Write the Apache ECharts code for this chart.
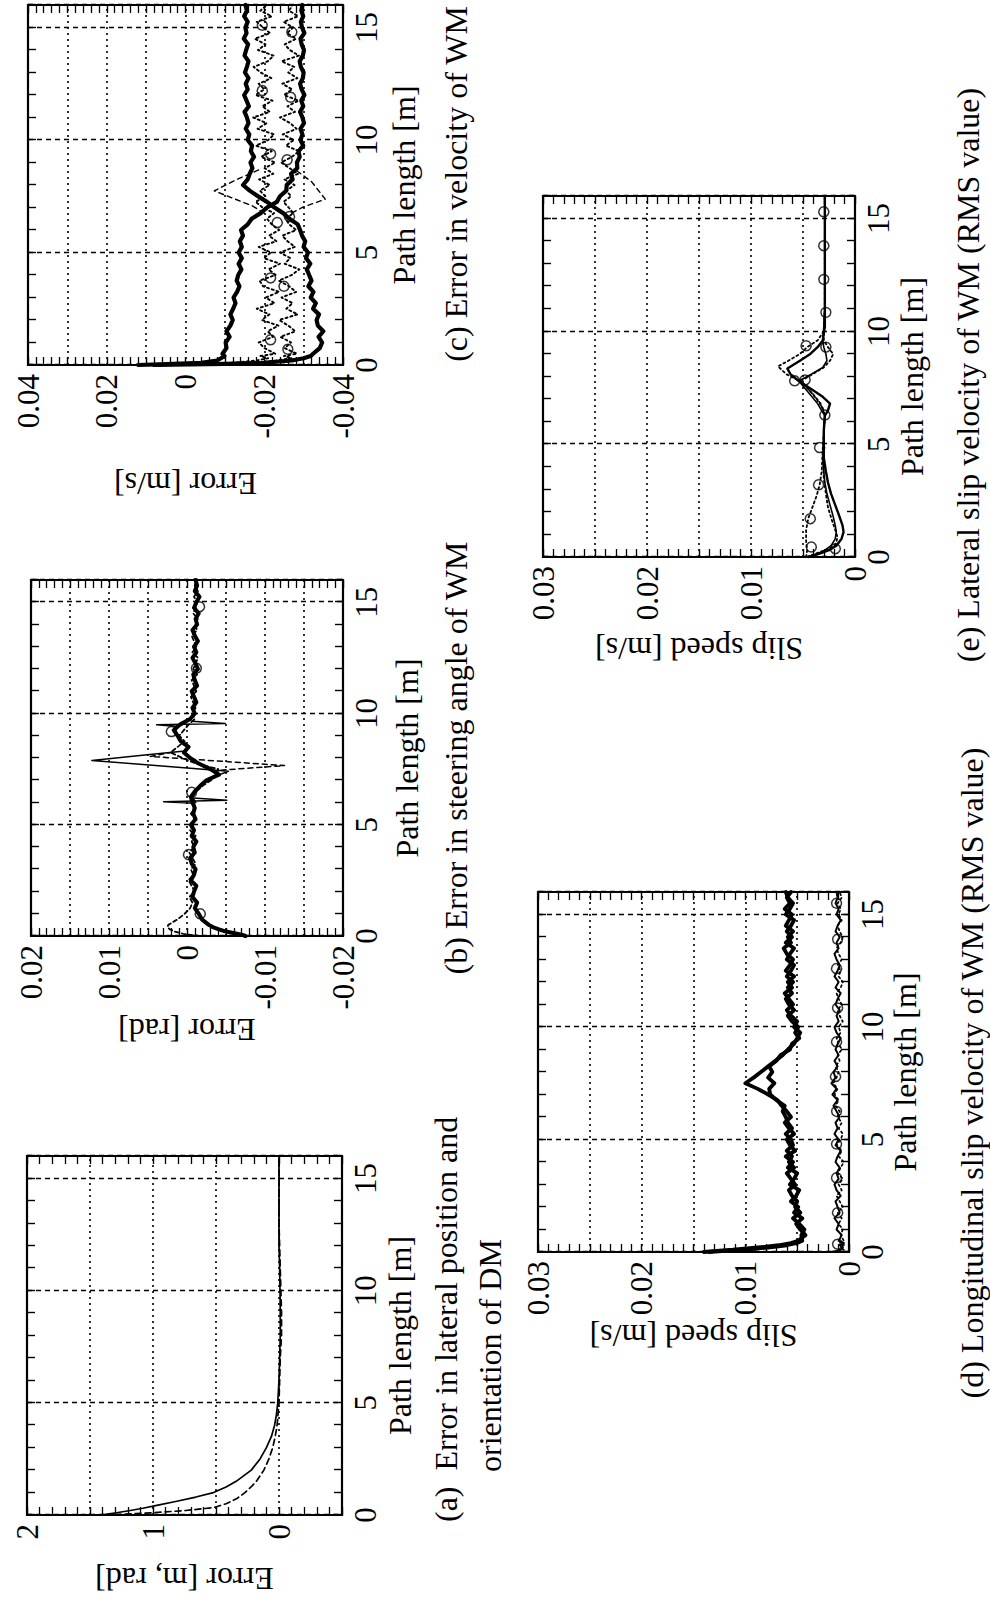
<!DOCTYPE html>
<html>
<head>
<meta charset="utf-8">
<title>Tracking errors and slip velocities along the path</title>
<script src="https://cdn.jsdelivr.net/npm/echarts@6.0.0/dist/echarts.min.js"></script>
<style>
  html, body { margin: 0; padding: 0; width: 990px; height: 1604px; overflow: hidden; background: #fff; }
  /* The figure is laid out landscape (1604 x 990) and turned a quarter turn counter-clockwise onto the portrait page. */
  #chart { position: absolute; left: 0; top: 0; width: 1604px; height: 990px;
           transform-origin: 0 0; transform: translate(0px, 1604px) rotate(-90deg); }
</style>
</head>
<body>
<div id="chart"></div>
<script>
// ---------------------------------------------------------------- data
// Shared sampling positions along the path [m] for the densely sampled (noisy) records.
const PATH_GRID = [0, 0.05, 0.1, 0.2, 0.3, 0.4,
  0.5, 0.75, 1, 1.25, 1.5, 1.75, 2, 2.25, 2.5, 2.75,
  3, 3.25, 3.5, 3.75, 4, 4.25, 4.5, 4.75, 5, 5.25,
  5.5, 5.75, 6, 6.25, 6.5, 6.75, 7, 7.25, 7.5, 7.75,
  8, 8.25, 8.5, 8.75, 9, 9.25, 9.5, 9.75, 10, 10.25,
  10.5, 10.75, 11, 11.25, 11.5, 11.75, 12, 12.25, 12.5, 12.75,
  13, 13.25, 13.5, 13.75, 14, 14.25, 14.5, 14.75, 15, 15.25,
  15.5, 15.75, 16];

const PATH_TICKS = [0, 5, 10, 15];

// (a) lateral position / orientation error of the DM [m, rad]
const A_POSITION = [[0, 1.42], [0.1, 1.29], [0.2, 1.18], [0.3, 1.08], [0.43, 0.97], [0.6, 0.82], [0.8, 0.66],
  [1.0, 0.52], [1.25, 0.42], [1.5, 0.34], [2.0, 0.22], [2.5, 0.15], [3.0, 0.10], [3.5, 0.06], [4.0, 0.035],
  [4.5, 0.02], [5, 0.01], [6, 0.0], [7, -0.005], [8, -0.01], [9, -0.01], [10, -0.008], [11, -0.005],
  [12, 0.0], [14, 0.0], [16, 0.0]];
const A_ORIENTATION = [[0, 1.38], [0.1, 1.0], [0.2, 0.74], [0.33, 0.52], [0.5, 0.42], [0.75, 0.33], [1.0, 0.27],
  [1.26, 0.22], [1.5, 0.18], [2.0, 0.12], [2.5, 0.08], [3.0, 0.05], [3.5, 0.03], [4.0, 0.015], [5, 0.0],
  [6, -0.005], [7, -0.01], [8, -0.02], [9, -0.02], [10, -0.015], [11, -0.01], [12, -0.005], [13, 0.0], [16, 0.0]];

// (b) steering angle error of the WM [rad]
const B_MAIN = [-0.0075, -0.0071, -0.0064, -0.0050, -0.0041, -0.0033,
  -0.0028, -0.0019, -0.0015, -0.0010, -0.0013, -0.0007, -0.0009, -0.0012, -0.0005, -0.0009,
  -0.0011, -0.0006, -0.0004, -0.0010, -0.0008, -0.0012, -0.0006, -0.0009, -0.0005, -0.0011,
  -0.0008, -0.0010, -0.0007, -0.0005, -0.0010, -0.0017, -0.0025, -0.0041, -0.0030, -0.0015,
  -0.0004, 0.0004, -0.0002, 0.0008, 0.0012, 0.0017, 0.0009, -0.0004, -0.0010, -0.0007,
  -0.0012, -0.0009, -0.0006, -0.0013, -0.0010, -0.0008, -0.0014, -0.0011, -0.0007, -0.0012,
  -0.0009, -0.0014, -0.0010, -0.0007, -0.0013, -0.0011, -0.0015, -0.0009, -0.0012, -0.0016,
  -0.0010, -0.0013, -0.0011];
const B_DASHED = [-0.0016, -0.0005, 0.0005, 0.0016, 0.0022, 0.0025,
  0.0024, 0.0012, 0.0003, -0.0004, -0.0007, -0.0003, -0.0010, -0.0006, -0.0002, -0.0008,
  -0.0005, -0.0011, -0.0007, -0.0003, -0.0009, -0.0006, -0.0011, -0.0004, -0.0008, -0.0010,
  -0.0005, -0.0009, -0.0011, -0.0007, -0.0012, -0.0020, -0.0031, -0.0038, -0.0040, -0.0012,
  0.0006, 0.0021, 0.0012, 0.0003, 0.0010, 0.0004, -0.0002, -0.0010, -0.0006, -0.0011,
  -0.0008, -0.0005, -0.0012, -0.0009, -0.0006, -0.0013, -0.0008, -0.0011, -0.0014, -0.0007,
  -0.0012, -0.0009, -0.0006, -0.0013, -0.0010, -0.0014, -0.0008, -0.0011, -0.0013, -0.0009,
  -0.0014, -0.0010, -0.0012];
const B_KICK_1 = [[5.97, -0.0009], [6.03, 0.0030], [6.10, -0.0051], [6.2, -0.0008]];
const B_KICK_2 = [[7.25, -0.0041], [7.4, -0.0053], [7.89, 0.0122], [8.15, 0.0051], [8.3, 0.0006]];
const B_KICK_3 = [[9.42, 0.0012], [9.49, 0.0039], [9.55, -0.0049], [9.65, -0.0006]];
const B_KICK_DASHED = [[7.2, -0.0035], [7.45, -0.0042], [7.66, -0.0125], [8.07, 0.0047], [8.25, 0.0021]];
const B_MARKS = [[1.0, -0.0017], [3.66, -0.0002], [6.46, -0.0006], [9.19, 0.0020], [12.03, -0.0012], [14.8, -0.0016]];

// (c) velocity error of the WM [m/s]
const C_UPPER = [0.0120, 0.0030, -0.0040, -0.0080, -0.0090, -0.0099,
  -0.0094, -0.0104, -0.0102, -0.0112, -0.0104, -0.0114, -0.0120, -0.0114, -0.0121, -0.0127,
  -0.0122, -0.0131, -0.0137, -0.0130, -0.0134, -0.0142, -0.0135, -0.0143, -0.0135, -0.0143,
  -0.0138, -0.0146, -0.0141, -0.0158, -0.0168, -0.0191, -0.0207, -0.0232, -0.0240, -0.0256,
  -0.0257, -0.0272, -0.0268, -0.0284, -0.0283, -0.0290, -0.0287, -0.0299, -0.0292, -0.0297,
  -0.0292, -0.0301, -0.0297, -0.0291, -0.0299, -0.0294, -0.0302, -0.0295, -0.0291, -0.0298,
  -0.0300, -0.0293, -0.0290, -0.0298, -0.0301, -0.0295, -0.0292, -0.0302, -0.0296, -0.0293,
  -0.0299, -0.0294, -0.0297];
const C_LOWER = [0.0080, -0.0100, -0.0200, -0.0270, -0.0300, -0.0318,
  -0.0324, -0.0341, -0.0347, -0.0338, -0.0350, -0.0336, -0.0333, -0.0339, -0.0324, -0.0331,
  -0.0318, -0.0325, -0.0312, -0.0320, -0.0314, -0.0308, -0.0317, -0.0306, -0.0311, -0.0300,
  -0.0304, -0.0296, -0.0291, -0.0285, -0.0264, -0.0248, -0.0226, -0.0207, -0.0184, -0.0163,
  -0.0146, -0.0158, -0.0163, -0.0170, -0.0165, -0.0174, -0.0166, -0.0169, -0.0158, -0.0162,
  -0.0153, -0.0160, -0.0156, -0.0150, -0.0161, -0.0155, -0.0149, -0.0158, -0.0153, -0.0160,
  -0.0151, -0.0156, -0.0160, -0.0150, -0.0154, -0.0159, -0.0148, -0.0155, -0.0152, -0.0158,
  -0.0149, -0.0156, -0.0152];
const C_DOTTED_1 = [0.0060, -0.0040, -0.0120, -0.0180, -0.0210, -0.0190,
  -0.0228, -0.0201, -0.0186, -0.0222, -0.0209, -0.0236, -0.0194, -0.0213, -0.0181, -0.0226,
  -0.0204, -0.0238, -0.0197, -0.0188, -0.0229, -0.0211, -0.0240, -0.0199, -0.0217, -0.0186,
  -0.0231, -0.0212, -0.0238, -0.0219, -0.0207, -0.0225, -0.0196, -0.0178, -0.0203, -0.0189,
  -0.0214, -0.0187, -0.0223, -0.0201, -0.0228, -0.0192, -0.0219, -0.0179, -0.0210, -0.0225,
  -0.0183, -0.0206, -0.0172, -0.0214, -0.0195, -0.0221, -0.0178, -0.0200, -0.0186, -0.0218,
  -0.0191, -0.0173, -0.0209, -0.0224, -0.0184, -0.0203, -0.0176, -0.0215, -0.0197, -0.0181,
  -0.0219, -0.0190, -0.0207];
const C_DOTTED_2 = [0.0040, -0.0080, -0.0170, -0.0230, -0.0270, -0.0250,
  -0.0283, -0.0252, -0.0268, -0.0241, -0.0279, -0.0261, -0.0238, -0.0285, -0.0256, -0.0272,
  -0.0244, -0.0281, -0.0263, -0.0237, -0.0270, -0.0289, -0.0252, -0.0266, -0.0240, -0.0278,
  -0.0259, -0.0246, -0.0281, -0.0263, -0.0255, -0.0274, -0.0262, -0.0249, -0.0268, -0.0256,
  -0.0277, -0.0251, -0.0286, -0.0264, -0.0243, -0.0270, -0.0289, -0.0255, -0.0275, -0.0247,
  -0.0282, -0.0266, -0.0240, -0.0278, -0.0259, -0.0287, -0.0250, -0.0271, -0.0246, -0.0284,
  -0.0261, -0.0276, -0.0244, -0.0288, -0.0265, -0.0252, -0.0281, -0.0258, -0.0273, -0.0249,
  -0.0286, -0.0263, -0.0272];
const C_SWING_LEFT = [[6.75, -0.0200], [7.07, -0.0170], [7.74, -0.0073], [8.26, -0.0132], [8.7, -0.0190]];
const C_SWING_RIGHT = [[6.75, -0.0270], [7.0, -0.0296], [7.37, -0.0355], [8.15, -0.0320], [8.6, -0.0285]];
const C_MARKS = [[1.12, -0.0216], [3.87, -0.0216], [6.33, -0.0233], [9.38, -0.0216], [12.2, -0.0195], [15.1, -0.0195],
  [0.7, -0.0260], [3.5, -0.0250], [6.6, -0.0264], [9.12, -0.0258], [11.9, -0.0267], [14.8, -0.0270]];

// (d) longitudinal slip velocity of the WM, RMS [m/s]
const D_RMS_1 = [0.0140, 0.0128, 0.0112, 0.0088, 0.0068, 0.0056,
  0.0049, 0.0042, 0.0047, 0.0051, 0.0045, 0.0053, 0.0049, 0.0056, 0.0051, 0.0048,
  0.0057, 0.0053, 0.0050, 0.0059, 0.0054, 0.0061, 0.0052, 0.0057, 0.0060, 0.0053,
  0.0058, 0.0062, 0.0056, 0.0060, 0.0065, 0.0069, 0.0078, 0.0088, 0.0100, 0.0092,
  0.0085, 0.0078, 0.0071, 0.0064, 0.0059, 0.0053, 0.0050, 0.0047, 0.0053, 0.0050,
  0.0056, 0.0060, 0.0054, 0.0058, 0.0062, 0.0055, 0.0059, 0.0053, 0.0061, 0.0057,
  0.0054, 0.0060, 0.0063, 0.0056, 0.0059, 0.0054, 0.0061, 0.0058, 0.0055, 0.0062,
  0.0057, 0.0060, 0.0056];
const D_RMS_2 = [0.0135, 0.0120, 0.0100, 0.0078, 0.0060, 0.0050,
  0.0045, 0.0046, 0.0043, 0.0048, 0.0054, 0.0047, 0.0052, 0.0050, 0.0055, 0.0058,
  0.0052, 0.0056, 0.0060, 0.0053, 0.0058, 0.0055, 0.0060, 0.0054, 0.0056, 0.0061,
  0.0055, 0.0059, 0.0061, 0.0064, 0.0062, 0.0070, 0.0076, 0.0077, 0.0072, 0.0078,
  0.0074, 0.0077, 0.0070, 0.0066, 0.0057, 0.0055, 0.0048, 0.0052, 0.0049, 0.0055,
  0.0059, 0.0053, 0.0058, 0.0061, 0.0055, 0.0059, 0.0054, 0.0060, 0.0056, 0.0053,
  0.0060, 0.0057, 0.0053, 0.0061, 0.0055, 0.0060, 0.0056, 0.0053, 0.0061, 0.0057,
  0.0054, 0.0059, 0.0061];
const D_LOW_1 = [0.0018, 0.0012, 0.0008, 0.0006, 0.0009, 0.0005,
  0.0010, 0.0007, 0.0012, 0.0010, 0.0014, 0.0009, 0.0011, 0.0013, 0.0008, 0.0012,
  0.0014, 0.0010, 0.0012, 0.0009, 0.0013, 0.0011, 0.0008, 0.0013, 0.0010, 0.0014,
  0.0011, 0.0013, 0.0009, 0.0012, 0.0015, 0.0011, 0.0016, 0.0012, 0.0017, 0.0013,
  0.0015, 0.0011, 0.0014, 0.0010, 0.0013, 0.0011, 0.0008, 0.0012, 0.0014, 0.0010,
  0.0012, 0.0009, 0.0013, 0.0011, 0.0008, 0.0013, 0.0010, 0.0014, 0.0011, 0.0009,
  0.0012, 0.0014, 0.0010, 0.0012, 0.0009, 0.0013, 0.0011, 0.0008, 0.0012, 0.0010,
  0.0013, 0.0011, 0.0012];
const D_LOW_2 = [0.0015, 0.0009, 0.0005, 0.0008, 0.0004, 0.0009,
  0.0005, 0.0008, 0.0006, 0.0010, 0.0007, 0.0011, 0.0006, 0.0009, 0.0012, 0.0007,
  0.0010, 0.0006, 0.0011, 0.0008, 0.0005, 0.0010, 0.0007, 0.0012, 0.0008, 0.0006,
  0.0010, 0.0007, 0.0011, 0.0009, 0.0013, 0.0010, 0.0014, 0.0011, 0.0015, 0.0012,
  0.0010, 0.0013, 0.0009, 0.0011, 0.0007, 0.0010, 0.0012, 0.0008, 0.0010, 0.0006,
  0.0009, 0.0011, 0.0007, 0.0010, 0.0012, 0.0008, 0.0006, 0.0010, 0.0008, 0.0011,
  0.0007, 0.0010, 0.0012, 0.0008, 0.0006, 0.0009, 0.0011, 0.0007, 0.0010, 0.0008,
  0.0011, 0.0007, 0.0009];
const D_MARKS = [[0.35, 0.0011], [1.75, 0.0011], [3.3, 0.0012], [4.8, 0.0012], [6.25, 0.0012], [7.8, 0.0013],
  [9.34, 0.0012], [10.85, 0.0011], [12.6, 0.0012], [13.9, 0.0011], [15.5, 0.0012]];

// (e) lateral slip velocity of the WM, RMS [m/s]
const E_SOLID_1 = [[0, 0.0045], [0.15, 0.0034], [0.3, 0.0025], [0.5, 0.0018], [0.8, 0.0013], [1.1, 0.0011],
  [1.4, 0.0012], [1.8, 0.0015], [2.3, 0.0019], [2.8, 0.0023], [3.3, 0.0026], [3.8, 0.0028], [4.4, 0.0030],
  [5.0, 0.0030], [5.6, 0.0030], [6.26, 0.0029], [6.5, 0.0026], [6.8, 0.0024], [7.1, 0.0031], [7.5, 0.0044],
  [7.8, 0.0054], [8.1, 0.0062], [8.35, 0.0065], [8.7, 0.0053], [9.0, 0.0043], [9.3, 0.0036], [9.6, 0.0031],
  [10.2, 0.0029], [11, 0.0029], [12, 0.0029], [13, 0.0029], [14, 0.0029], [15, 0.0029], [16, 0.0029]];
const E_SOLID_2 = [[0, 0.0045], [0.15, 0.0036], [0.3, 0.0029], [0.5, 0.0023], [0.8, 0.0019], [1.1, 0.0018],
  [1.4, 0.0019], [1.8, 0.0021], [2.3, 0.0024], [2.8, 0.0027], [3.3, 0.0029], [3.8, 0.0030], [4.4, 0.0030],
  [5.0, 0.0030], [5.6, 0.0030], [6.26, 0.0029], [6.8, 0.0036], [7.3, 0.0045], [7.8, 0.0054], [8.1, 0.0042],
  [8.4, 0.0031], [8.7, 0.0027], [9.0, 0.0028], [9.3, 0.0030], [9.6, 0.0031], [10.2, 0.0030], [11, 0.0029],
  [12, 0.0029], [13, 0.0029], [14, 0.0029], [15, 0.0029], [16, 0.0029]];
const E_DOTTED_1 = [[0, 0.0047], [0.3, 0.0046], [0.7, 0.0047], [1.2, 0.0047], [1.7, 0.0045], [2.2, 0.0041],
  [2.7, 0.0037], [3.2, 0.0034], [3.8, 0.0032], [4.8, 0.0031], [5.5, 0.0030], [6.26, 0.0029], [6.6, 0.0031],
  [7.0, 0.0037], [7.4, 0.0044], [7.8, 0.0053], [8.1, 0.0066], [8.45, 0.0074], [8.7, 0.0064], [9.0, 0.0053],
  [9.3, 0.0046], [9.6, 0.0036], [10, 0.0030], [11, 0.0029], [12, 0.0029], [13, 0.0029], [14, 0.0029],
  [15, 0.0029], [16, 0.0029]];
const E_DOTTED_2 = [[0, 0.0046], [0.2, 0.0035], [0.4, 0.0023], [0.6, 0.0018], [0.9, 0.0017], [1.2, 0.0019],
  [1.6, 0.0022], [2.2, 0.0026], [2.8, 0.0028], [3.5, 0.0030], [4.5, 0.0031], [5.5, 0.0030], [6.26, 0.0029],
  [6.8, 0.0033], [7.2, 0.0040], [7.8, 0.0052], [8.1, 0.0041], [8.4, 0.0030], [8.7, 0.0024], [9.0, 0.0021],
  [9.3, 0.0026], [9.6, 0.0030], [10, 0.0030], [11, 0.0029], [12, 0.0029], [13, 0.0029], [14, 0.0029],
  [15, 0.0029], [16, 0.0029]];
const E_MARKS = [[0.44, 0.0042], [0.37, 0.0019], [1.7, 0.0043], [3.2, 0.0035], [4.85, 0.0034], [6.29, 0.0029],
  [7.81, 0.0058], [7.85, 0.0048], [9.36, 0.0047], [9.3, 0.0028], [10.84, 0.0028], [12.3, 0.0030],
  [13.8, 0.0030], [15.3, 0.0030]];

// ---------------------------------------------------------------- text
const X_NAME = 'Path length [m]';
const CAPTIONS = [
  { text: '(a)  Error in lateral position and', x: 82, y: 446, align: 'left' },
  { text: 'orientation of DM', x: 132, y: 490, align: 'left' },
  { text: '(b) Error in steering angle of WM', x: 846, y: 456, align: 'center' },
  { text: '(c) Error in velocity of WM', x: 1420, y: 456, align: 'center' },
  { text: '(d) Longitudinal slip velocity of WM (RMS value)', x: 531, y: 972, align: 'center' },
  { text: '(e) Lateral slip velocity of WM (RMS value)', x: 1229, y: 968, align: 'center' }
];

// ---------------------------------------------------------------- layout & style
const FONT = '"Liberation Serif", "Times New Roman", serif';
const INK = '#000';

// Panel frames in the landscape layout: [left, top, width, height]
const PANELS = [
  { box: [89, 27, 359, 315],   yRange: [-0.5, 2],     yGrid: 0.5,   yLabelEvery: 1,    yName: 'Error [m, rad]',   yNameGap: 48,  xNameGap: 42 },
  { box: [668, 31, 356, 312],  yRange: [-0.02, 0.02], yGrid: 0.005, yLabelEvery: 0.01, yName: 'Error [rad]',      yNameGap: 78,  xNameGap: 48 },
  { box: [1239, 28, 360, 315], yRange: [-0.04, 0.04], yGrid: 0.01,  yLabelEvery: 0.02, yName: 'Error [m/s]',      yNameGap: 103, xNameGap: 45 },
  { box: [352, 538, 360, 311], yRange: [0, 0.03],     yGrid: 0.005, yLabelEvery: 0.01, yName: 'Slip speed [m/s]', yNameGap: 68,  xNameGap: 39 },
  { box: [1047, 543, 361, 312], yRange: [0, 0.03],    yGrid: 0.005, yLabelEvery: 0.01, yName: 'Slip speed [m/s]', yNameGap: 76,  xNameGap: 41 }
];

const zip = (xs, ys) => xs.map((x, i) => [x, ys[i]]);
const isMultiple = (v, step) => Math.abs(v / step - Math.round(v / step)) < 1e-6;

function valueLabel(step) {
  return v => {
    if (!isMultiple(v, step)) return '';
    const r = Math.round(v * 1e6) / 1e6;
    return r === 0 ? '0' : String(r);
  };
}
const pathLabel = v => (PATH_TICKS.some(t => Math.abs(t - v) < 1e-6) ? String(Math.round(v)) : '');

const tickStyle = { show: true, inside: true, length: 8, lineStyle: { color: INK, width: 1.4 } };
const minorStyle = { show: true, splitNumber: 5, length: 8, lineStyle: { color: INK, width: 1.3 } };
const labelFont = { fontFamily: FONT, fontSize: 31, color: INK };
const nameFont = { fontFamily: FONT, fontSize: 32, color: INK };
const noLine = { show: false, onZero: false };

const grids = [], xAxes = [], yAxes = [];
PANELS.forEach((p, i) => {
  grids.push({ left: p.box[0], top: p.box[1], width: p.box[2], height: p.box[3],
    show: true, borderColor: INK, borderWidth: 2.2, backgroundColor: 'rgba(0,0,0,0)' });

  const pathBase = { type: 'value', gridIndex: i, min: 0, max: 16, interval: 1,
    axisLine: noLine, splitLine: { show: false } };
  // labelled path axis with a tick every metre
  xAxes.push(Object.assign({}, pathBase, {
    position: 'bottom', axisTick: tickStyle,
    axisLabel: Object.assign({ margin: 8, formatter: pathLabel }, labelFont),
    name: X_NAME, nameLocation: 'middle', nameGap: p.xNameGap, nameTextStyle: nameFont }));
  // mirrored ticks on the opposite edge of the box
  xAxes.push(Object.assign({}, pathBase, { position: 'top', axisTick: tickStyle, axisLabel: { show: false } }));
  // grid lines every 5 m
  xAxes.push({ type: 'value', gridIndex: i, min: 0, max: 16, interval: 5, position: 'bottom',
    axisLine: noLine, axisTick: { show: false }, axisLabel: { show: false },
    splitLine: { show: true, lineStyle: { color: INK, width: 1.3, type: [5, 4] } } });

  const valBase = { type: 'value', gridIndex: i, min: p.yRange[0], max: p.yRange[1], interval: p.yGrid,
    axisLine: noLine };
  yAxes.push(Object.assign({}, valBase, {
    position: 'left', axisTick: tickStyle, minorTick: minorStyle,
    axisLabel: Object.assign({ margin: 9, formatter: valueLabel(p.yLabelEvery) }, labelFont),
    splitLine: { show: true, lineStyle: { color: INK, width: 1.6, type: [2, 4] } },
    name: p.yName, nameLocation: 'middle', nameRotate: 90, nameGap: p.yNameGap, nameTextStyle: nameFont }));
  yAxes.push(Object.assign({}, valBase, {
    position: 'right', axisTick: tickStyle, minorTick: minorStyle,
    axisLabel: { show: false }, splitLine: { show: false } }));
});

function trace(panel, data, width, dash) {
  return { type: 'line', xAxisIndex: panel * 3, yAxisIndex: panel * 2, data: data,
    symbol: 'none', showSymbol: false, silent: true, animation: false, z: 3,
    lineStyle: { color: INK, width: width, type: dash || 'solid', cap: 'round', join: 'round' } };
}
function rings(panel, data) {
  return { type: 'scatter', xAxisIndex: panel * 3, yAxisIndex: panel * 2, data: data,
    symbol: 'circle', symbolSize: 10, silent: true, animation: false, z: 4,
    itemStyle: { color: 'rgba(0,0,0,0)', borderColor: INK, borderWidth: 1.5 } };
}

const DASH = [6, 4];
const DOT = [2, 3];

const series = [
  // (a)
  trace(0, A_POSITION, 1.7),
  trace(0, A_ORIENTATION, 1.7, DASH),
  // (b)
  trace(1, zip(PATH_GRID, B_DASHED), 1.8, [4, 3]),
  trace(1, zip(PATH_GRID, B_MAIN), 4.0),
  trace(1, B_KICK_1, 1.5),
  trace(1, B_KICK_2, 1.5),
  trace(1, B_KICK_3, 1.5),
  trace(1, B_KICK_DASHED, 1.5, [5, 4]),
  rings(1, B_MARKS),
  // (c)
  trace(2, zip(PATH_GRID, C_DOTTED_1), 1.9, DOT),
  trace(2, zip(PATH_GRID, C_DOTTED_2), 1.9, DOT),
  trace(2, C_SWING_LEFT, 1.4, [5, 4]),
  trace(2, C_SWING_RIGHT, 1.4, [5, 4]),
  trace(2, zip(PATH_GRID, C_UPPER), 4.2),
  trace(2, zip(PATH_GRID, C_LOWER), 4.2),
  rings(2, C_MARKS),
  // (d)
  trace(3, zip(PATH_GRID, D_RMS_1), 3.8),
  trace(3, zip(PATH_GRID, D_RMS_2), 3.8),
  trace(3, zip(PATH_GRID, D_LOW_1), 2.0),
  trace(3, zip(PATH_GRID, D_LOW_2), 1.7, DOT),
  rings(3, D_MARKS),
  // (e)
  trace(4, E_DOTTED_1, 1.8, DOT),
  trace(4, E_DOTTED_2, 1.8, DOT),
  trace(4, E_SOLID_1, 2.4),
  trace(4, E_SOLID_2, 1.6),
  rings(4, E_MARKS)
];

const graphic = CAPTIONS.map(c => ({
  type: 'text', x: c.x, y: c.y, silent: true,
  style: { text: c.text, fill: INK, font: '32px ' + FONT,
    textAlign: c.align, align: c.align, textVerticalAlign: 'middle', verticalAlign: 'middle' }
}));

const chart = echarts.init(document.getElementById('chart'), null, { renderer: 'svg' });
chart.setOption({
  backgroundColor: '#fff',
  animation: false,
  grid: grids,
  xAxis: xAxes,
  yAxis: yAxes,
  series: series,
  graphic: graphic
});
</script>
</body>
</html>
